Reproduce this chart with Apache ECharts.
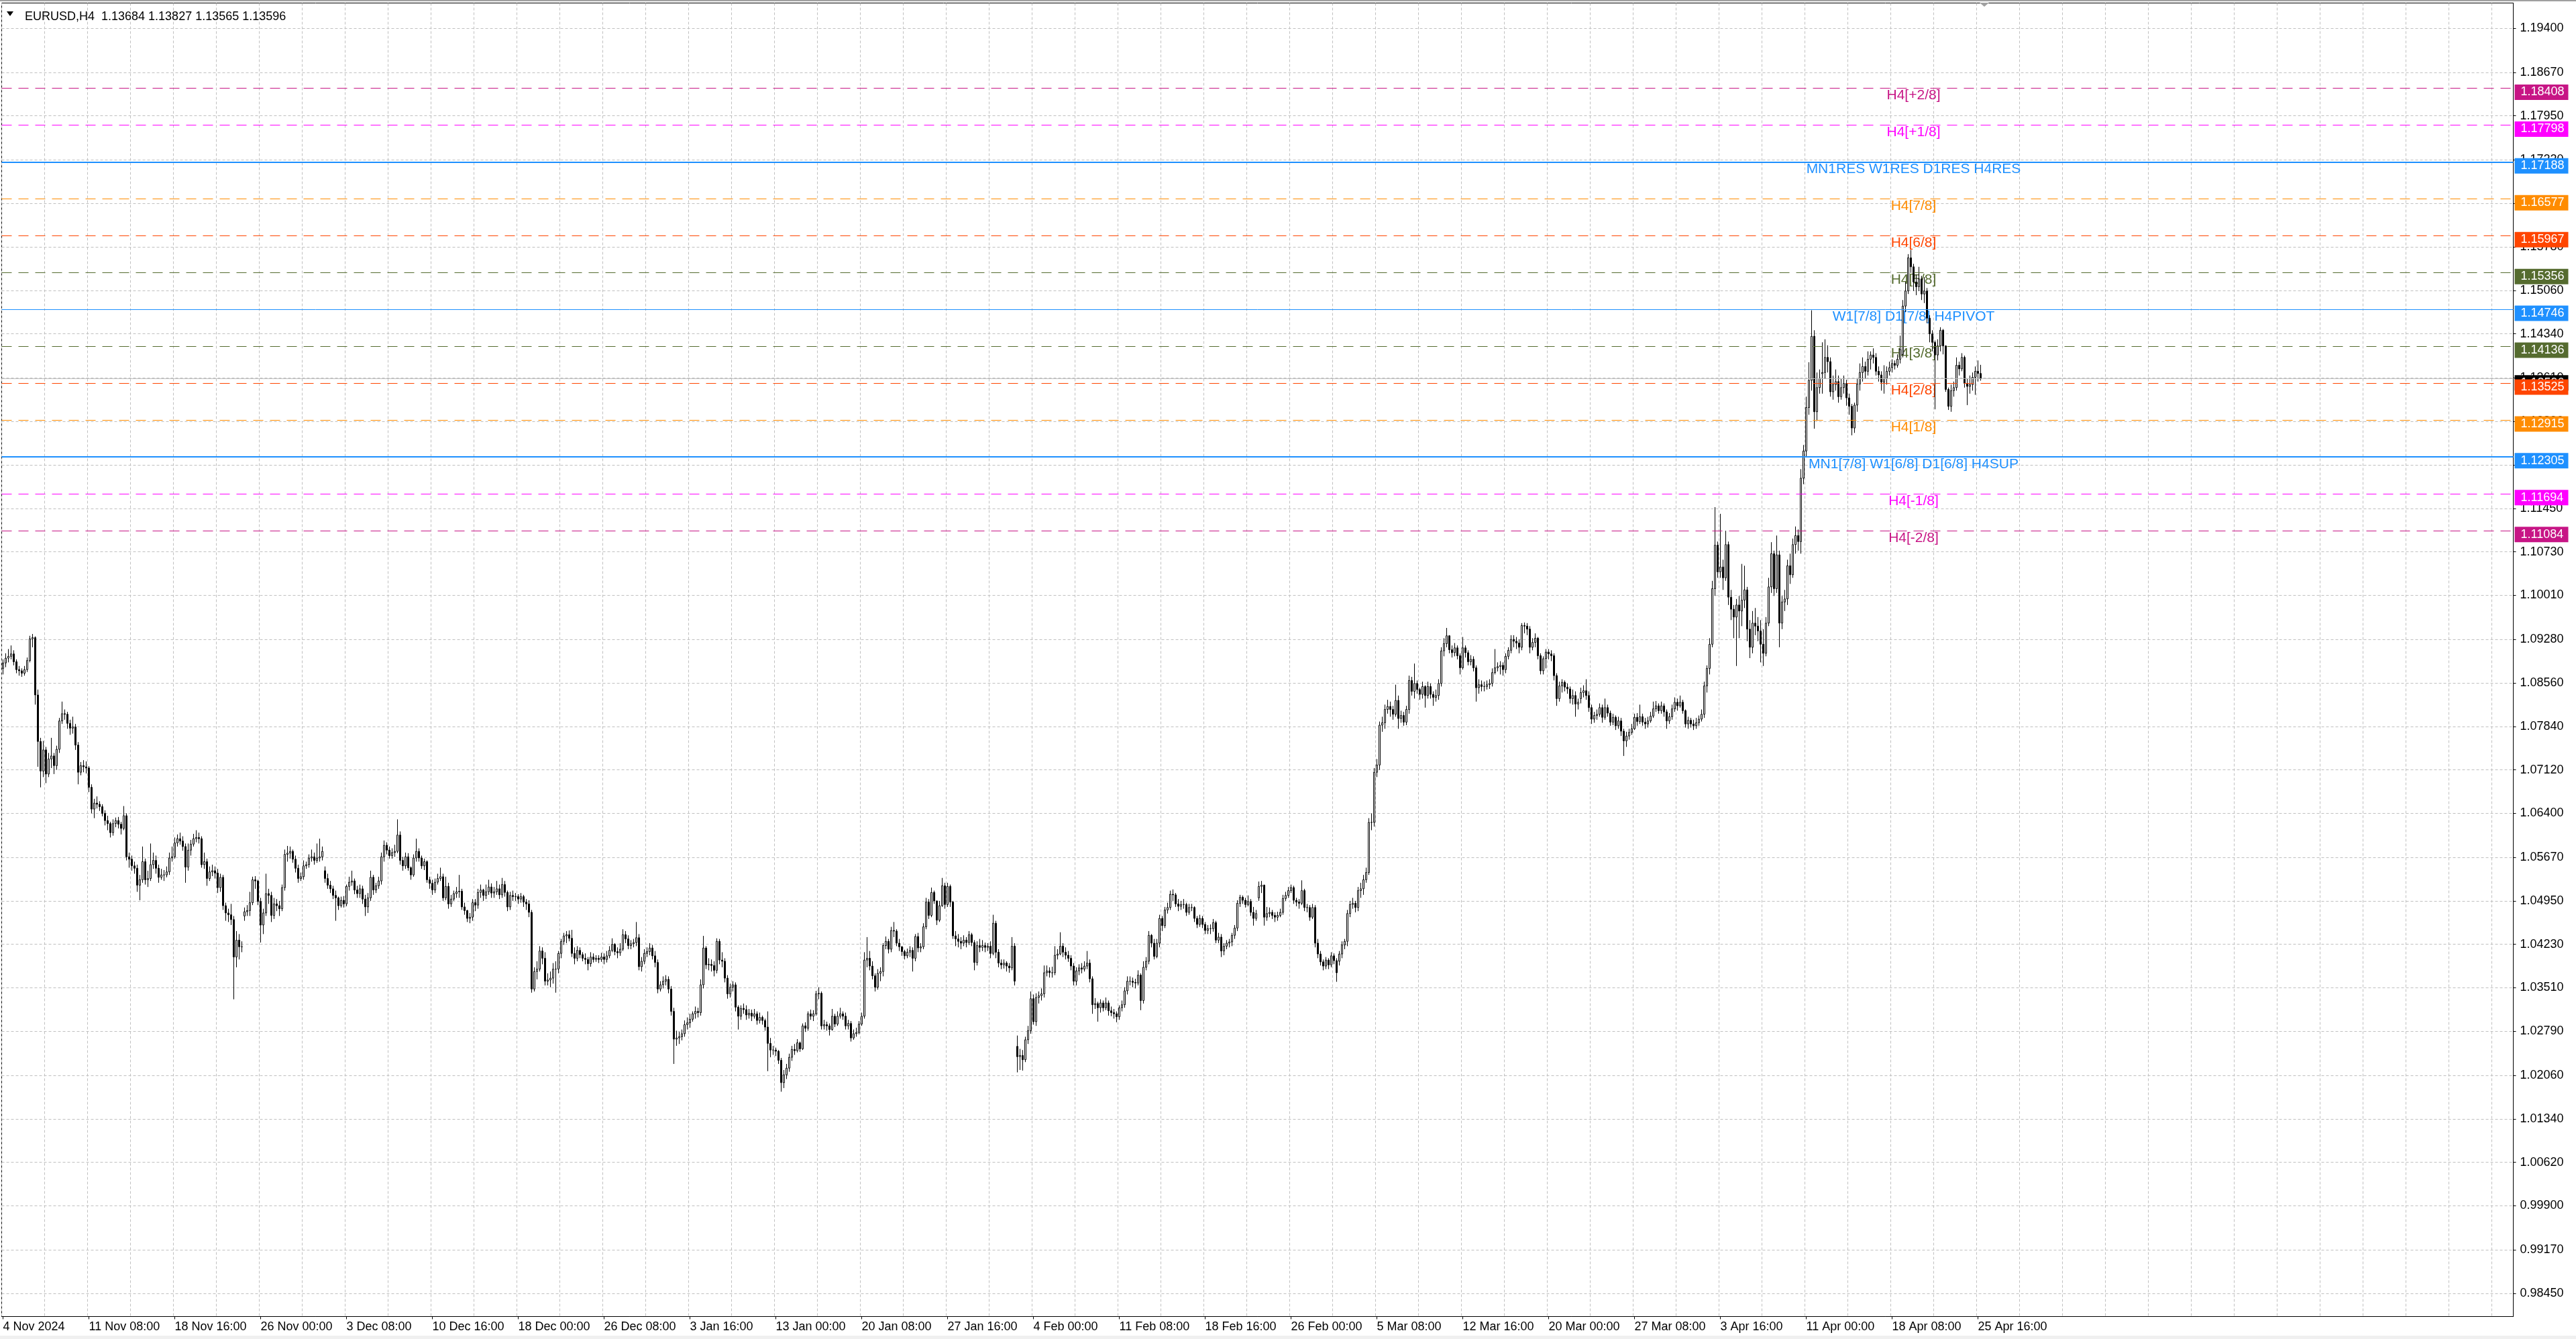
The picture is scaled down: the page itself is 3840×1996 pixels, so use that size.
<!DOCTYPE html>
<html>
<head>
<meta charset="utf-8">
<script src="https://cdn.jsdelivr.net/npm/echarts@6.0.0/dist/echarts.min.js"></script>
<style>
html,body{margin:0;padding:0;background:#fff;}
#c{width:3840px;height:1996px;}
</style>
</head>
<body>
<div id="c"></div>
<script>
// ---------- DATA (prices in units of 0.0001) ----------
const symbolText = 'EURUSD,H4  1.13684 1.13827 1.13565 1.13596';

const timeLabels = ['4 Nov 2024','11 Nov 08:00','18 Nov 16:00','26 Nov 00:00','3 Dec 08:00','10 Dec 16:00',
  '18 Dec 00:00','26 Dec 08:00','3 Jan 16:00','13 Jan 00:00','20 Jan 08:00','27 Jan 16:00','4 Feb 00:00',
  '11 Feb 08:00','18 Feb 16:00','26 Feb 00:00','5 Mar 08:00','12 Mar 16:00','20 Mar 00:00','27 Mar 08:00',
  '3 Apr 16:00','11 Apr 00:00','18 Apr 08:00','25 Apr 16:00'];

const priceTicks = ['1.19400','1.18670','1.17950','1.17220','1.16500','1.15780','1.15060','1.14340','1.13610',
  '1.12890','1.12170','1.11450','1.10730','1.10010','1.09280','1.08560','1.07840','1.07120','1.06400','1.05670',
  '1.04950','1.04230','1.03510','1.02790','1.02060','1.01340','1.00620','0.99900','0.99170','0.98450'];

// week-open bars whose open differs from the previous close: [bar, open]
const gapOpens = [[0,10880],[90,10470],[120,10545],[378,10254],[468,10500],[498,10395],[588,10830],[678,11368],[708,11400]];

const closePips = [
10889,10897,10900,10904,10891,10878, 10876,10872,10878,10893,10929,10931, 10836,10759,10710,10745,10705,10730, 10735,10719,10746,10793,10805,10804, 10789,10781,10783,10753,10708,10719,
10717,10715,10683,10647,10657,10655, 10651,10640,10628,10623,10608,10623, 10628,10622,10615,10636,10568,10564, 10553,10549,10521,10530,10560,10530, 10532,10555,10562,10549,10534,10538,
10538,10543,10566,10568,10591,10598, 10594,10585,10551,10579,10589,10598, 10600,10598,10555,10560,10532,10543, 10545,10541,10517,10534,10487,10475, 10472,10464,10402,10430,10419,10419,
10477,10479,10492,10530,10528,10494, 10455,10475,10507,10504,10471,10490, 10487,10482,10517,10572,10574,10577, 10564,10549,10532,10535,10553,10555, 10566,10568,10562,10566,10568,10577,
10532,10521,10515,10504,10500,10487, 10496,10490,10519,10526,10528,10513, 10507,10515,10498,10485,10500,10534, 10513,10520,10528,10568,10587,10579, 10570,10575,10577,10604,10562,10553,
10568,10550,10538,10566,10577,10566, 10553,10560,10530,10524,10513,10526, 10532,10535,10500,10519,10490,10498, 10507,10510,10511,10485,10479,10466, 10468,10492,10488,10509,10513,10504,
10510,10518,10508,10510,10515,10505, 10522,10509,10485,10504,10502,10502, 10498,10502,10493,10490,10476,10349, 10378,10382,10412,10400,10362,10364, 10367,10382,10382,10408,10428,10437,
10439,10433,10408,10400,10413,10406, 10400,10398,10391,10402,10398,10400, 10398,10402,10398,10404,10413,10423, 10411,10409,10415,10439,10432,10421,
10424,10426,10434,10386,10395,10408, 10411,10417,10404,10393,10349,10356, 10362,10365,10349,10312,10266,10268, 10270,10275,10290,10293,10299,10308,
10312,10310,10356,10417,10389,10390, 10388,10380,10428,10397,10395,10367, 10341,10352,10356,10319,10304,10317, 10315,10306,10309,10304,10308,10297, 10302,10297,10286,10259,10248,10248,
10246,10231,10194,10207,10218,10236, 10249,10247,10260,10250,10288,10284, 10308,10304,10308,10341,10342,10288, 10290,10288,10282,10304,10291,10304, 10308,10304,10288,10292,10268,10275,
10277,10291,10304,10397,10400,10387, 10371,10352,10375,10378,10421,10428, 10415,10446,10445,10425,10419,10411, 10404,10410,10413,10400,10436,10417, 10419,10452,10493,10471,10509,10495,
10463,10487,10520,10489,10519,10493, 10437,10432,10428,10425,10430,10426, 10439,10426,10393,10421,10418,10421, 10418,10420,10408,10458,10410,10392, 10389,10392,10387,10384,10420,10362,
10237,10239,10232,10265,10280,10333, 10295,10335,10338,10341,10376,10379, 10376,10376,10405,10407,10420,10410, 10405,10400,10387,10362,10379,10384, 10382,10387,10392,10366,10323,10325,
10318,10326,10318,10326,10313,10310, 10308,10303,10318,10323,10346,10362, 10362,10360,10359,10372,10330,10385, 10395,10438,10425,10403,10425,10466, 10454,10480,10484,10506,10505,10490,
10486,10489,10489,10476,10484,10484, 10466,10456,10466,10456,10446,10449, 10449,10459,10430,10435,10412,10420, 10425,10427,10438,10450,10491,10501, 10496,10489,10494,10476,10466,10474,
10519,10521,10468,10474,10476,10471, 10468,10471,10476,10499,10504,10512, 10517,10496,10493,10491,10512,10484, 10484,10468,10484,10425,10407,10394, 10387,10397,10389,10404,10396,10376,
10407,10422,10428,10474,10489,10491, 10484,10512,10515,10530,10542,10625, 10625,10708,10720,10786,10790,10812, 10817,10812,10804,10827,10797,10802, 10791,10812,10860,10842,10855,10845,
10837,10850,10835,10850,10837,10832, 10835,10855,10909,10921,10934,10911, 10906,10914,10901,10881,10914,10906, 10891,10895,10881,10848,10853,10850, 10850,10853,10855,10873,10881,10883,
10885,10878,10900,10910,10928,10925, 10922,10915,10951,10950,10945,10915, 10923,10930,10901,10876,10896,10907, 10904,10901,10868,10830,10851,10857, 10849,10846,10830,10835,10821,10824,
10840,10843,10835,10815,10796,10802, 10804,10815,10799,10815,10806,10791, 10799,10785,10793,10776,10760,10768, 10774,10780,10799,10792,10800,10791, 10788,10793,10801,10813,10818,10810,
10818,10808,10793,10800,10813,10824, 10818,10824,10810,10788,10794,10788, 10785,10790,10796,10804,10851,10880, 10920,11012,11084,11040,11048,11030, 11085,10998,10978,10965,10985,10975,
10993,11010,10945,10915,10955,10950, 10942,10920,10905,10955,11015,11070, 11012,11068,10955,10990,10995,11050, 11035,11085,11100,11090,11195,11240, 11312,11357,11430,11305,11345,11360,
11370,11395,11388,11338,11350,11355, 11330,11345,11352,11328,11314,11278, 11316,11351,11370,11380,11372,11392, 11399,11395,11372,11366,11354,11360, 11372,11378,11385,11382,11392,11408,
11480,11505,11560,11545,11520,11512, 11525,11500,11505,11460,11434,11420, 11399,11414,11440,11414,11342,11314, 11340,11345,11382,11376,11395,11352, 11347,11350,11362,11372,11368.4,11359.6
];

const highPips = [
10895,10905,10912,10918,10910,10895, 10884,10880,10884,10898,10934,10937, 10933,10845,10765,10760,10750,10740, 10765,10740,10752,10798,10825,10812, 10808,10795,10800,10788,10758,10725,
10728,10726,10718,10688,10664,10668, 10660,10655,10645,10636,10626,10630, 10633,10634,10626,10652,10640,10575, 10570,10560,10555,10538,10585,10565, 10545,10590,10575,10570,10555,10548,
10546,10552,10575,10585,10600,10605, 10608,10602,10590,10590,10596,10606, 10612,10608,10602,10575,10565,10552, 10555,10552,10548,10540,10538,10492, 10482,10490,10470,10445,10440,10428,
10484,10488,10510,10535,10536,10530, 10500,10482,10540,10515,10510,10500, 10498,10495,10522,10580,10586,10585, 10580,10570,10555,10542,10562,10560, 10572,10580,10575,10590,10598,10585,
10552,10540,10528,10520,10512,10502, 10502,10503,10522,10535,10545,10532, 10520,10522,10520,10505,10508,10545, 10538,10525,10535,10575,10595,10592, 10585,10582,10588,10630,10610,10568,
10575,10574,10552,10572,10598,10582, 10570,10565,10562,10535,10530,10532, 10540,10550,10540,10535,10525,10505, 10512,10518,10538,10515,10492,10480, 10475,10498,10498,10515,10522,10515,
10522,10530,10524,10518,10528,10522, 10533,10528,10512,10510,10512,10508, 10506,10508,10505,10498,10496,10480, 10385,10395,10420,10418,10410,10375, 10378,10392,10395,10412,10432,10442,
10445,10446,10447,10418,10420,10418, 10410,10408,10402,10410,10408,10405, 10405,10409,10408,10412,10420,10433, 10425,10418,10425,10448,10445,10438,
10430,10432,10460,10440,10402,10415, 10418,10425,10422,10412,10398,10362, 10370,10372,10370,10354,10318,10280, 10278,10282,10297,10302,10308,10312,
10320,10318,10365,10437,10420,10400, 10398,10395,10433,10432,10410,10400, 10372,10358,10362,10360,10322,10322, 10325,10322,10316,10315,10316,10312, 10310,10305,10300,10312,10268,10255,
10252,10248,10235,10215,10225,10242, 10255,10258,10266,10262,10292,10294, 10312,10315,10314,10346,10352,10345, 10298,10295,10292,10316,10308,10312, 10318,10312,10310,10298,10296,10282,
10285,10296,10310,10410,10435,10412, 10395,10375,10382,10385,10425,10436, 10432,10452,10460,10448,10432,10420, 10414,10416,10420,10418,10440,10442, 10425,10458,10500,10498,10517,10512,
10495,10495,10533,10525,10525,10522, 10495,10445,10440,10435,10438,10435, 10445,10442,10430,10428,10432,10430, 10426,10425,10428,10472,10462,10415, 10398,10398,10395,10392,10435,10425,
10272,10250,10248,10270,10288,10345, 10340,10342,10345,10350,10388,10388, 10385,10386,10420,10415,10443,10425, 10418,10412,10405,10392,10385,10390, 10392,10395,10412,10398,10370,10334,
10328,10332,10330,10335,10330,10320, 10316,10312,10322,10330,10352,10370, 10370,10368,10366,10380,10375,10395, 10402,10445,10440,10432,10432,10472, 10470,10485,10492,10512,10514,10508,
10498,10495,10498,10492,10490,10490, 10486,10470,10472,10470,10460,10455, 10456,10465,10462,10442,10440,10425, 10430,10432,10442,10455,10496,10505, 10504,10500,10504,10498,10485,10480,
10527,10528,10522,10485,10484,10480, 10476,10477,10482,10505,10510,10518, 10522,10520,10500,10498,10529,10515, 10490,10488,10490,10488,10432,10412, 10398,10402,10400,10410,10408,10400,
10412,10428,10432,10480,10495,10500, 10495,10518,10525,10538,10550,10632, 10640,10715,10730,10792,10800,10820, 10828,10825,10818,10853,10835,10810, 10808,10818,10868,10866,10888,10860,
10848,10858,10852,10858,10855,10842, 10845,10862,10915,10930,10947,10935, 10918,10922,10918,10905,10932,10918, 10910,10902,10900,10885,10862,10860, 10858,10860,10862,10880,10912,10890,
10892,10890,10905,10915,10935,10935, 10932,10928,10955,10956,10955,10950, 10930,10938,10932,10905,10900,10912, 10912,10910,10905,10872,10858,10862, 10860,10855,10850,10845,10842,10830,
10848,10852,10862,10842,10820,10808, 10812,10822,10820,10830,10820,10810, 10805,10802,10800,10798,10780,10775, 10780,10788,10805,10806,10820,10805, 10798,10800,10808,10825,10826,10822,
10825,10822,10812,10806,10820,10832, 10830,10835,10828,10812,10800,10798, 10795,10798,10802,10812,10858,10885, 10930,11025,11147,11090,11136,11060, 11108,11090,11010,10985,10995,11000,
11053,11050,11015,10960,10975,10980, 10965,10960,10945,10965,11030,11089, 11075,11100,11075,11000,11010,11060, 11070,11095,11115,11110,11210,11250, 11330,11387,11473,11440,11370,11375,
11420,11425,11415,11395,11365,11375, 11365,11360,11365,11358,11335,11318, 11320,11360,11385,11395,11388,11405, 11405,11410,11402,11380,11372,11382, 11380,11388,11392,11390,11400,11431,
11490,11520,11566,11573,11550,11532, 11545,11530,11528,11510,11465,11440, 11423,11425,11445,11442,11415,11345, 11350,11355,11395,11388,11402,11398, 11360,11365,11370,11380,11390,11382.7
];

const lowPips = [
10870,10882,10890,10895,10885,10872, 10868,10866,10868,10874,10890,10915, 10820,10717,10683,10700,10690,10700, 10715,10705,10712,10740,10788,10795, 10780,10770,10772,10745,10688,10703,
10708,10706,10675,10640,10632,10648, 10644,10635,10620,10612,10600,10603, 10617,10615,10605,10612,10562,10550, 10545,10540,10510,10496,10525,10522, 10518,10528,10548,10540,10525,10530,
10528,10534,10538,10560,10565,10585, 10588,10578,10525,10545,10570,10585, 10592,10590,10550,10548,10520,10528, 10536,10532,10508,10510,10480,10462, 10460,10455,10332,10385,10398,10410,
10462,10470,10470,10488,10515,10488, 10426,10440,10470,10490,10460,10465, 10478,10470,10478,10512,10560,10565, 10558,10542,10525,10528,10530,10548, 10550,10560,10555,10558,10560,10562,
10525,10515,10508,10498,10462,10480, 10484,10484,10486,10512,10520,10506, 10500,10500,10490,10470,10475,10495, 10505,10508,10515,10522,10560,10572, 10565,10565,10568,10574,10555,10545,
10548,10545,10530,10535,10560,10560, 10548,10546,10525,10515,10505,10508, 10522,10528,10495,10496,10482,10485, 10495,10500,10500,10480,10472,10460, 10458,10462,10478,10482,10500,10495,
10498,10505,10500,10500,10505,10498, 10500,10502,10478,10480,10495,10495, 10490,10492,10485,10480,10468,10343, 10345,10365,10378,10390,10355,10355, 10352,10358,10343,10375,10400,10422,
10425,10428,10402,10390,10395,10400, 10395,10390,10380,10386,10393,10394, 10392,10394,10390,10393,10400,10410, 10405,10400,10404,10412,10425,10415,
10415,10418,10420,10380,10378,10390, 10402,10405,10398,10385,10342,10345, 10350,10355,10342,10305,10225,10255, 10258,10264,10270,10282,10285,10295,
10300,10302,10305,10350,10382,10380, 10378,10370,10375,10390,10385,10360, 10333,10335,10345,10312,10282,10298, 10308,10298,10300,10296,10300,10290, 10292,10290,10280,10213,10236,10240,
10238,10225,10179,10185,10200,10212, 10230,10240,10244,10245,10248,10278, 10280,10298,10296,10305,10332,10282, 10282,10280,10272,10280,10286,10288, 10300,10298,10282,10282,10262,10265,
10270,10274,10288,10300,10385,10380, 10365,10345,10348,10362,10370,10415, 10408,10410,10435,10420,10412,10404, 10398,10400,10402,10378,10395,10410, 10410,10415,10448,10465,10468,10490,
10455,10460,10485,10482,10485,10485, 10432,10420,10418,10415,10420,10418, 10422,10420,10380,10388,10410,10412, 10410,10412,10400,10405,10400,10385, 10382,10383,10378,10376,10380,10355,
10211,10215,10214,10228,10258,10275, 10290,10288,10325,10330,10335,10370, 10368,10368,10372,10398,10405,10402, 10398,10394,10380,10355,10355,10372, 10375,10378,10382,10360,10308,10316,
10295,10310,10312,10314,10305,10304, 10300,10294,10298,10312,10318,10340, 10355,10352,10350,10355,10314,10325, 10380,10390,10418,10398,10400,10418, 10445,10450,10474,10480,10495,10485,
10478,10480,10482,10470,10472,10478, 10460,10450,10452,10450,10440,10440, 10440,10444,10425,10425,10402,10405, 10415,10418,10420,10432,10445,10485, 10490,10484,10486,10470,10454,10462,
10495,10508,10454,10462,10468,10465, 10460,10462,10468,10472,10495,10500, 10508,10490,10486,10482,10488,10478, 10476,10462,10465,10418,10400,10388, 10380,10382,10382,10385,10390,10361,
10388,10400,10415,10420,10468,10482, 10476,10478,10500,10505,10525,10538, 10612,10618,10700,10712,10775,10780, 10805,10800,10795,10800,10780,10790, 10785,10786,10805,10835,10830,10838,
10828,10830,10815,10830,10830,10818, 10825,10828,10850,10900,10915,10905, 10898,10900,10895,10870,10878,10898, 10885,10885,10875,10825,10838,10842, 10842,10845,10846,10850,10870,10875,
10870,10868,10872,10895,10905,10915, 10912,10905,10910,10938,10935,10905, 10910,10915,10895,10870,10870,10880, 10895,10892,10860,10818,10825,10840, 10842,10838,10822,10820,10800,10812,
10822,10832,10828,10808,10788,10790, 10795,10800,10790,10795,10800,10785, 10786,10778,10780,10768,10735,10750, 10762,10770,10778,10785,10788,10785, 10780,10782,10790,10798,10808,10805,
10805,10800,10780,10788,10795,10808, 10810,10815,10805,10782,10780,10782, 10778,10780,10785,10792,10798,10840, 10870,10915,11000,11030,11030,11010, 11025,10985,10960,10930,10884,10930,
10950,10980,10925,10897,10905,10935, 10925,10890,10884,10900,10950,11005, 11000,11005,10915,10945,10975,10985, 11020,11030,11070,11075,11070,11185, 11230,11300,11340,11277,11290,11335,
11335,11360,11370,11330,11325,11340, 11320,11325,11335,11315,11300,11266, 11270,11305,11340,11355,11360,11365, 11375,11385,11365,11355,11340,11335, 11350,11365,11370,11375,11378,11385,
11395,11470,11500,11535,11505,11498, 11505,11490,11485,11452,11420,11405, 11309,11390,11405,11400,11338,11308, 11305,11330,11340,11365,11372,11345, 11316,11335,11340,11333,11355,11356.5
];

// Murrey math levels
const levelPrices = [1.18408, 1.17798, 1.17188, 1.16577, 1.15967, 1.15356, 1.14746, 1.14136, 1.13525, 1.12915, 1.12305, 1.11694, 1.11084];
const levelNames = ['H4[+2/8]','H4[+1/8]','MN1RES W1RES D1RES H4RES','H4[7/8]','H4[6/8]','H4[5/8]',
  'W1[7/8] D1[7/8] H4PIVOT','H4[3/8]','H4[2/8]','H4[1/8]','MN1[7/8] W1[6/8] D1[6/8] H4SUP','H4[-1/8]','H4[-2/8]'];
const bidPrice = 1.13596;
const levelTextBar = 712; // bar where the level captions are anchored

// ---------- STYLES ----------
const levelColors = ['#C71585','#FF00FF','#1E90FF','#FF8C00','#FF4500','#556B2F','#1E90FF','#556B2F','#FF4500','#FF8C00','#1E90FF','#FF00FF','#C71585'];
const levelWidths = [1,1,2,1,1,1,1,1,1,1,2,1,1];
const levelTypes  = ['d','d','s','d','d','d','s','d','d','d','s','d','d'];
const FONT = 'Liberation Sans';
const SLOTS = 936;          // visible bar slots in the window
const BARS_PER_LABEL = 32;
const BARS_PER_GRID = 16;
const Y_MIN = 0.980667, Y_MAX = 1.198188;

// ---------- BUILD ----------
const PIP = 1e-4;
const gapMap = new Map(gapOpens);
const candles = closePips.map((c, i) => {
  const o = gapMap.has(i) ? gapMap.get(i) : closePips[i - 1];
  const h = Math.max(highPips[i], o, c), l = Math.min(lowPips[i], o, c);
  return [o * PIP, c * PIP, l * PIP, h * PIP];
});
const cats = Array.from({length: SLOTS}, (_, i) => String(i));
const lastLabelBar = (timeLabels.length - 1) * BARS_PER_LABEL;
const isLabelBar = (i) => i % BARS_PER_LABEL === 0 && i <= lastLabelBar;
const tickValues = priceTicks.map(Number);

const markData = [{
  yAxis: bidPrice,
  lineStyle: {color: '#c0c0c0', width: 1, type: 'solid'},
  label: {backgroundColor: '#000', formatter: bidPrice.toFixed(5)}
}];
levelPrices.forEach((p, i) => {
  markData.push({
    yAxis: p,
    lineStyle: {color: levelColors[i], width: levelWidths[i], type: levelTypes[i] === 's' ? 'solid' : [15, 10]},
    label: {backgroundColor: levelColors[i], formatter: p.toFixed(5)}
  });
});

const chart = echarts.init(document.getElementById('c'), null, {renderer: 'canvas'});
chart.setOption({
  animation: false,
  backgroundColor: '#fff',
  title: {
    text: symbolText, left: 32, top: 11,
    textStyle: {fontSize: 18, fontWeight: 'normal', color: '#000', fontFamily: FONT}
  },
  graphic: [
    {type: 'rect', shape: {x: 0, y: 0, width: 3840, height: 2}, style: {fill: '#a0a0a0'}, silent: true},
    {type: 'polygon', shape: {points: [[10, 17], [20, 17], [15, 24]]}, style: {fill: '#000'}, silent: true},
    {type: 'polygon', shape: {points: [[2951, 4], [2965, 4], [2958, 10]]}, style: {fill: '#a0a0a0'}, silent: true},
    {type: 'rect', shape: {x: 0, y: 1991, width: 3840, height: 5}, style: {fill: '#f0f0f0'}, silent: true}
  ],
  grid: {left: 2.5, right: 93.5, top: 4.5, bottom: 33.5, show: true, borderColor: '#000', borderWidth: 1, backgroundColor: '#fff'},
  xAxis: [{
    type: 'category', data: cats, boundaryGap: true,
    axisLine: {show: true, lineStyle: {color: '#000', width: 1}},
    axisTick: {show: true, interval: (i) => isLabelBar(i), alignWithLabel: true, length: 4, lineStyle: {color: '#000'}},
    axisLabel: {
      show: true, interval: (i) => isLabelBar(i), align: 'left', margin: 7,
      fontSize: 18, color: '#000', fontFamily: FONT,
      formatter: (v) => { const i = Number(v); return isLabelBar(i) ? timeLabels[i / BARS_PER_LABEL] : ''; }
    },
    splitLine: {show: true, interval: (i) => i % BARS_PER_GRID === 0, lineStyle: {color: '#c0c0c0', width: 1, type: [4, 3]}}
  }],
  yAxis: [{
    type: 'value', position: 'right', min: Y_MIN, max: Y_MAX, scale: true,
    axisLine: {show: true, lineStyle: {color: '#000', width: 1}},
    axisTick: {show: true, customValues: tickValues, length: 4, lineStyle: {color: '#000'}},
    axisLabel: {customValues: tickValues, formatter: (v) => v.toFixed(5), margin: 10, fontSize: 18, color: '#000', fontFamily: FONT},
    splitLine: {show: true, lineStyle: {color: '#c0c0c0', width: 1, type: [4, 3]}}
  }],
  series: [
    {
      type: 'scatter', name: 'levels', z: 1, silent: true,
      symbolSize: 0,
      itemStyle: {opacity: 1},
      data: levelPrices.map((p, i) => ({
        value: [levelTextBar, p],
        label: {show: true, position: 'bottom', distance: 0, formatter: levelNames[i], color: levelColors[i],
                opacity: 1, fontSize: 21, fontFamily: FONT, lineHeight: 22}
      })),
      markLine: {
        silent: true, symbol: ['none', 'none'], animation: false, precision: 5,
        label: {show: true, position: 'end', distance: 2, offset: [0, 6], color: '#fff', fontSize: 18, fontFamily: FONT,
                width: 63, height: 19, lineHeight: 19, padding: [2, 8, 2, 9], align: 'left', verticalAlign: 'middle'},
        data: markData
      }
    },
    {
      type: 'candlestick', name: 'EURUSD,H4', z: 2,
      large: false, progressive: 0,
      barWidth: 2,
      data: candles,
      itemStyle: {color: '#ffffff', color0: '#000000', borderColor: '#000000', borderColor0: '#000000', borderWidth: 1}
    }
  ]
});
</script>
</body>
</html>
